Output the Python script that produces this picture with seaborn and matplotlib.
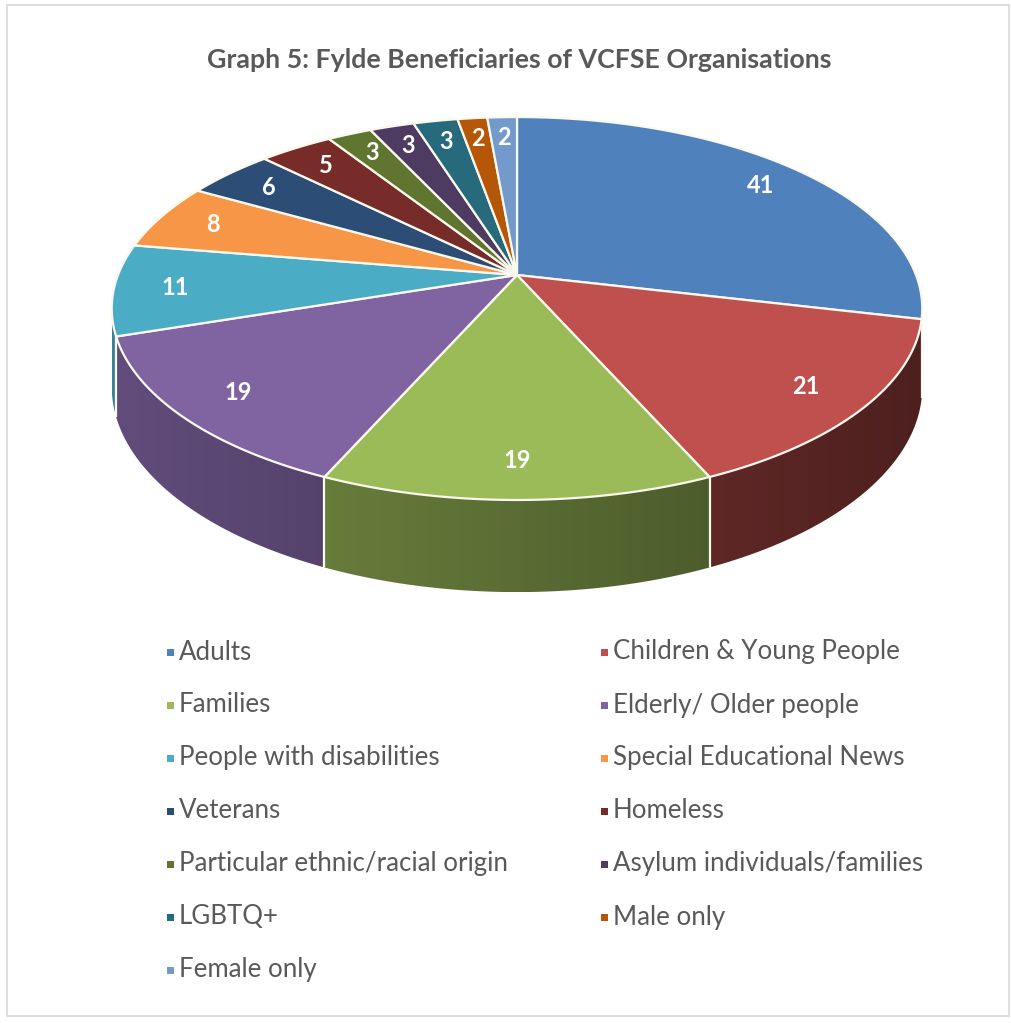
import numpy as np
import matplotlib
matplotlib.use("Agg")
import matplotlib.pyplot as plt
from matplotlib.patches import Polygon, Rectangle
from matplotlib import colors as mcolors
import seaborn as sns

# Beneficiary groups and counts
categories = ["Adults", "Children & Young People", "Families", "Elderly/ Older people",
              "People with disabilities", "Special Educational News", "Veterans", "Homeless",
              "Particular ethnic/racial origin", "Asylum individuals/families", "LGBTQ+",
              "Male only", "Female only"]
counts = [41, 21, 19, 19, 11, 8, 6, 5, 3, 3, 3, 2, 2]
slice_colors = ["#4F81BD", "#C0504D", "#9BBB59", "#8064A2", "#4BACC6", "#F79646",
                "#2C4D75", "#772C2A", "#5F7530", "#4D3B62", "#276A7C", "#B65708", "#729ACA"]
title = "Graph 5: Fylde Beneficiaries of VCFSE Organisations"

sns.set_theme(style="white")
palette = sns.color_palette(slice_colors)
plt.rcParams["font.family"] = ["Lato", "DejaVu Sans"]

W, H = 1011, 1023
fig = plt.figure(figsize=(W / 100, H / 100), dpi=100)
ax = fig.add_axes([0, 0, 1, 1])

# perspective disc projection (screen pixels)
CX, CY = 517.0, 275.0
SX, SY = 399.0, 185.6
K = 0.175
DEPTH = 76.0
# silhouette of the rim: where the projected outline turns back
SIL = np.degrees(np.arccos(-K))


def proj(theta_deg, r=1.0, z=0.0):
    t = np.radians(theta_deg)
    x = r * np.sin(t)
    y = r * np.cos(t)
    w = 1 + K * y
    return CX + SX * x / w, CY - SY * y / w + DEPTH * z / w


def wall_shade(xpix):
    # lit from the left, darker towards the right
    return 0.76 - 0.36 * np.clip((xpix - 115.0) / 805.0, 0, 1)


total = float(sum(counts))
bounds = np.concatenate([[0], np.cumsum(counts)]) / total * 360.0
edge_col = "#FBF8EE"

# side wall with a horizontal shading gradient
for i, col in enumerate(palette):
    a0, a1 = max(bounds[i], SIL), min(bounds[i + 1], 360 - SIL)
    if a1 <= a0:
        continue
    angs = np.linspace(a0, a1, 120)
    top = [proj(a) for a in angs]
    bot = [proj(a, z=1) for a in angs[::-1]]
    pts = np.array(top + bot)
    poly = Polygon(pts, closed=True, facecolor="none", edgecolor="none")
    ax.add_patch(poly)
    xmin, xmax = pts[:, 0].min(), pts[:, 0].max()
    ymin, ymax = pts[:, 1].min(), pts[:, 1].max()
    xs = np.linspace(xmin, xmax, 256)
    grad = np.array(mcolors.to_rgb(col))[None, :] * wall_shade(xs)[:, None]
    img = np.repeat(grad[None, :, :], 2, axis=0)
    im = ax.imshow(np.clip(img, 0, 1), extent=[xmin, xmax, ymax, ymin], aspect="auto",
                   interpolation="bilinear", zorder=1)
    im.set_clip_path(poly)

# vertical seams between wall segments
for b in bounds:
    if SIL < b < 360 - SIL:
        (x0, y0), (x1, y1) = proj(b), proj(b, z=1)
        ax.plot([x0, x1], [y0, y1], color=edge_col, lw=1.6, solid_capstyle="butt", zorder=2)

# top faces
for i, col in enumerate(palette):
    a0, a1 = bounds[i], bounds[i + 1]
    angs = np.linspace(a0, a1, max(3, int((a1 - a0) * 2)))
    pts = [(CX, CY)] + [proj(a) for a in angs]
    ax.add_patch(Polygon(pts, closed=True, facecolor=col, edgecolor=edge_col, lw=1.6,
                         joinstyle="round", zorder=3))

# value labels
for i, v in enumerate(counts):
    mid = 0.5 * (bounds[i] + bounds[i + 1])
    lx, ly = proj(mid, r=0.85)
    ax.text(lx, ly, str(v), color="white", fontsize=17, fontweight="bold",
            ha="center", va="center", zorder=4)

# title
ax.text(519, 60, title, color="#595959", fontsize=19.3, fontweight="bold",
        ha="center", va="center")

# legend, two columns filled row by row
col_x = [170, 604]
for i, (lab, col) in enumerate(zip(categories, palette)):
    r, c = divmod(i, 2)
    y = 652 + 53 * r
    ax.add_patch(Rectangle((col_x[c] - 3.5, y - 3.5), 7, 7, facecolor=col, edgecolor="none"))
    ax.text(col_x[c] + 9, y, lab, color="#595959", fontsize=18.6, ha="left", va="center")

# chart frame
ax.add_patch(Rectangle((7, 5), 1002, 1011, facecolor="none", edgecolor="#D9D9D9", lw=1.2))

ax.set_xlim(0, W)
ax.set_ylim(H, 0)
ax.axis("off")
fig.savefig("out.png", dpi=100)
